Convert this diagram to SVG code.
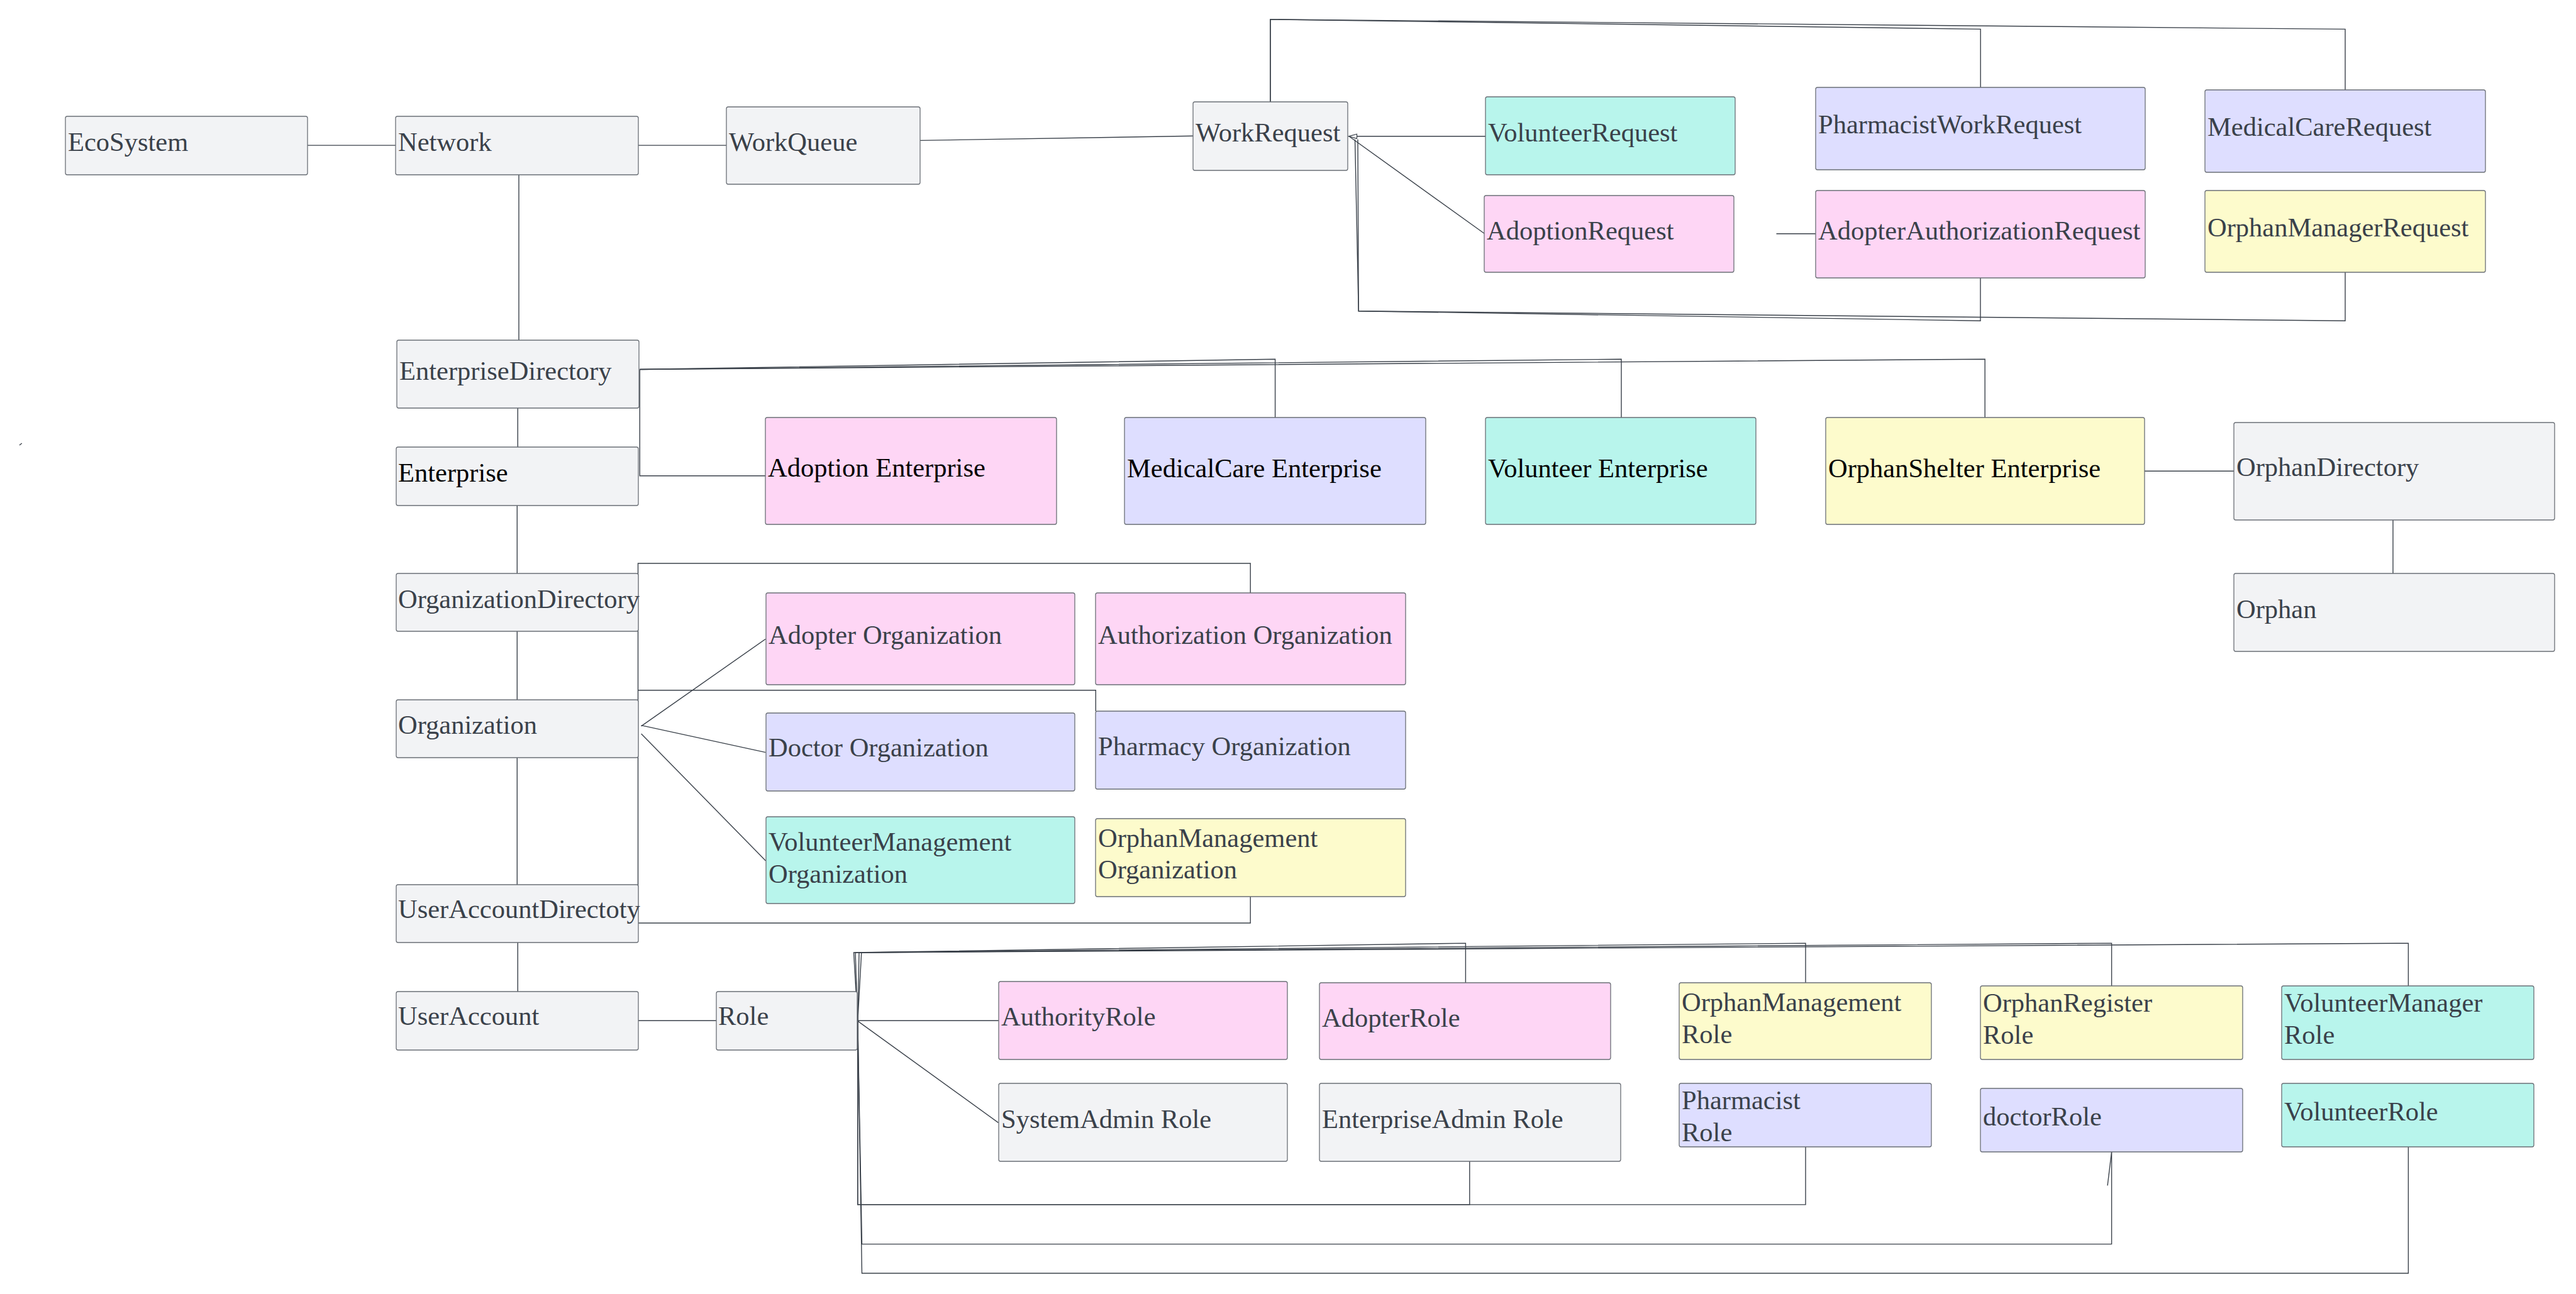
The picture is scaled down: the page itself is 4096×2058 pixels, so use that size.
<svg xmlns="http://www.w3.org/2000/svg" width="4096" height="2058" viewBox="0 0 4096 2058">
<style>
.n{stroke:#6a6f76;stroke-width:1.3}
.grey{fill:#f2f3f5}
.pink{fill:#fed6f5}
.lav{fill:#dedeff}
.teal{fill:#b8f5ec}
.yel{fill:#fdfbcc}
text{font-family:"Liberation Serif","Times New Roman",serif;font-size:42.5px;fill:#3a414a}
text.b{fill:#000}
.c{fill:none;stroke:#3a414a;stroke-width:1.4}
</style>
<defs>
<marker id="tri" markerUnits="userSpaceOnUse" markerWidth="16" markerHeight="10" viewBox="-1 -5 16 10" refX="13" refY="0" orient="auto">
<path d="M0,-3.6 L13,0 L0,3.6 Z" fill="#fff" stroke="#3a414a" stroke-width="1.2"/>
</marker>
</defs>
<rect width="4096" height="2058" fill="#fff"/>
<g id="connectors">
<path class="c" d="M489,231.1 H629"/>
<path class="c" d="M1015,231.1 H1155"/>
<path class="c" d="M1463,223.4 L1897,216.3"/>
<path class="c" d="M825,278 V541"/>
<path class="c" d="M823.3,649 V711"/>
<path class="c" d="M822.3,804 V912"/>
<path class="c" d="M822.3,1004 V1113"/>
<path class="c" d="M822.3,1205 V1407"/>
<path class="c" d="M823.3,1499 V1577"/>
<path class="c" d="M1015,1623.2 H1139"/>
<path class="c" d="M2362,216.8 H2144.5" marker-end="url(#tri)"/>
<path class="c" d="M2360.7,371.8 L2146,217.5"/>
<path class="c" d="M2019.9,162 V30.9 L3149.2,46.4 V139"/>
<path class="c" d="M2019.9,162 V30.9 L3729,46.4 V143"/>
<path class="c" d="M2154.5,221.8 L2160.2,494.7 L3149,510.2 V442"/>
<path class="c" d="M2159,221.8 L2160.2,494.7 L3729,510.2 V433"/>
<path class="c" d="M2824.5,371.8 H2887"/>
<path class="c" d="M1017.3,587.5 L2027.6,571.2 V664"/>
<path class="c" d="M1017.3,587.5 L2578,571.2 V664"/>
<path class="c" d="M1017.3,587.5 L3156.2,571.2 V664"/>
<path class="c" d="M1017.3,587.5 V756.8 H1217"/>
<path class="c" d="M1988.2,943 V896 H1014.5 V1468 H1988.2 V1426"/>
<path class="c" d="M1014.5,1097.7 H1742.3 V1131"/>
<path class="c" d="M1019.6,1154.9 L1217.5,1016.2"/>
<path class="c" d="M1019.6,1153.6 L1217.5,1196.6"/>
<path class="c" d="M1019.6,1167 L1217.5,1369"/>
<path class="c" d="M1363,1623.2 H1588"/>
<path class="c" d="M1363.8,1623.9 L1587.5,1785.6"/>
<path class="c" d="M1363.8,1623.9 L1357.5,1515 L2330.4,1500.1 V1563"/>
<path class="c" d="M1363.8,1623.9 L1360,1515 L2871,1500.1 V1563"/>
<path class="c" d="M1363.8,1623.9 L1366,1515 L3357.6,1500.1 V1568"/>
<path class="c" d="M1363.8,1623.9 L1369.8,1515 L3829.4,1500.1 V1568"/>
<path class="c" d="M1363.8,1623.9 V1915.9 H2336.8 V1847"/>
<path class="c" d="M1363.8,1623.9 V1915.9 H2871 V1824"/>
<path class="c" d="M1363.8,1623.9 L1370.5,1978.6 H3357.6 V1832"/>
<path class="c" d="M3357.6,1832 L3351.1,1885.5"/>
<path class="c" d="M1363.8,1623.9 L1370.5,2025 H3829.4 V1824"/>
<path class="c" d="M3410,749.2 H3552"/>
<path class="c" d="M3805,827 V912"/>
<path class="c" d="M30.9,708 L34.8,705"/>
</g>
<g id="ecosystem"><rect class="n grey" x="104" y="185" width="385" height="93" rx="3"/><text x="108" y="239.5">EcoSystem</text></g>
<g id="network"><rect class="n grey" x="629" y="185" width="386" height="93" rx="3"/><text x="633" y="239.5">Network</text></g>
<g id="workqueue"><rect class="n grey" x="1155" y="170" width="308" height="123" rx="3"/><text x="1159" y="239.5">WorkQueue</text></g>
<g id="workrequest"><rect class="n grey" x="1897" y="162" width="246" height="109" rx="3"/><text x="1901" y="225">WorkRequest</text></g>
<g id="volunteerrequest"><rect class="n teal" x="2362" y="154" width="397" height="124" rx="3"/><text x="2366" y="224.5">VolunteerRequest</text></g>
<g id="adoptionrequest"><rect class="n pink" x="2360" y="311" width="397" height="122" rx="3"/><text x="2364" y="380.5">AdoptionRequest</text></g>
<g id="pharmacistworkrequest"><rect class="n lav" x="2887" y="139" width="524" height="131" rx="3"/><text x="2891" y="212">PharmacistWorkRequest</text></g>
<g id="adopterauthorizationrequest"><rect class="n pink" x="2887" y="303" width="524" height="139" rx="3"/><text x="2891" y="381">AdopterAuthorizationRequest</text></g>
<g id="medicalcarerequest"><rect class="n lav" x="3506" y="143" width="446" height="131" rx="3"/><text x="3510" y="216">MedicalCareRequest</text></g>
<g id="orphanmanagerrequest"><rect class="n yel" x="3506" y="303" width="446" height="130" rx="3"/><text x="3510" y="375.5">OrphanManagerRequest</text></g>
<g id="enterprisedirectory"><rect class="n grey" x="631" y="541" width="385" height="108" rx="3"/><text x="635" y="603.5">EnterpriseDirectory</text></g>
<g id="enterprise"><rect class="n grey" x="630" y="711" width="385" height="93" rx="3"/><text class="b" x="633" y="765.5">Enterprise</text></g>
<g id="adoptionenterprise"><rect class="n pink" x="1217" y="664" width="463" height="170" rx="3"/><text class="b" x="1221" y="758">Adoption Enterprise</text></g>
<g id="medicalcareenterprise"><rect class="n lav" x="1788" y="664" width="479" height="170" rx="3"/><text class="b" x="1792" y="758.5">MedicalCare Enterprise</text></g>
<g id="volunteerenterprise"><rect class="n teal" x="2362" y="664" width="430" height="170" rx="3"/><text class="b" x="2366" y="758.5">Volunteer Enterprise</text></g>
<g id="orphanshelterenterprise"><rect class="n yel" x="2903" y="664" width="507" height="170" rx="3"/><text class="b" x="2907" y="758.5">OrphanShelter Enterprise</text></g>
<g id="orphandirectory"><rect class="n grey" x="3552" y="672" width="510" height="155" rx="3"/><text x="3556" y="756.8">OrphanDirectory</text></g>
<g id="orphan"><rect class="n grey" x="3552" y="912" width="510" height="124" rx="3"/><text x="3556" y="982.8">Orphan</text></g>
<g id="organizationdirectory"><rect class="n grey" x="630" y="912" width="385" height="92" rx="3"/><text x="633" y="966.8">OrganizationDirectory</text></g>
<g id="organization"><rect class="n grey" x="630" y="1113" width="385" height="92" rx="3"/><text x="633" y="1167">Organization</text></g>
<g id="useraccountdirectoty"><rect class="n grey" x="630" y="1407" width="385" height="92" rx="3"/><text x="633" y="1460">UserAccountDirectoty</text></g>
<g id="adopterorganization"><rect class="n pink" x="1218" y="943" width="491" height="146" rx="3"/><text x="1222" y="1023.5">Adopter Organization</text></g>
<g id="authorizationorganization"><rect class="n pink" x="1742" y="943" width="493" height="146" rx="3"/><text x="1746" y="1023.5">Authorization Organization</text></g>
<g id="doctororganization"><rect class="n lav" x="1218" y="1134" width="491" height="124" rx="3"/><text x="1222" y="1203.3">Doctor Organization</text></g>
<g id="pharmacyorganization"><rect class="n lav" x="1742" y="1131" width="493" height="124" rx="3"/><text x="1746" y="1200.5">Pharmacy Organization</text></g>
<g id="volunteermanagementorganization"><rect class="n teal" x="1218" y="1299" width="491" height="138" rx="3"/><text x="1222" y="1352.7">VolunteerManagement</text><text x="1222" y="1403.5">Organization</text></g>
<g id="orphanmanagementorganization"><rect class="n yel" x="1742" y="1302" width="493" height="124" rx="3"/><text x="1746" y="1347">OrphanManagement</text><text x="1746" y="1396.5">Organization</text></g>
<g id="useraccount"><rect class="n grey" x="630" y="1577" width="385" height="93" rx="3"/><text x="633" y="1630.3">UserAccount</text></g>
<g id="role"><rect class="n grey" x="1139" y="1577" width="224" height="93" rx="3"/><text x="1142" y="1630.3">Role</text></g>
<g id="authorityrole"><rect class="n pink" x="1588" y="1561" width="459" height="124" rx="3"/><text x="1592" y="1631.3">AuthorityRole</text></g>
<g id="adopterrole"><rect class="n pink" x="2098" y="1563" width="463" height="122" rx="3"/><text x="2102" y="1633">AdopterRole</text></g>
<g id="orphanmanagementrole"><rect class="n yel" x="2670" y="1563" width="401" height="122" rx="3"/><text x="2674" y="1608.4">OrphanManagement</text><text x="2674" y="1659">Role</text></g>
<g id="orphanregisterrole"><rect class="n yel" x="3149" y="1568" width="417" height="117" rx="3"/><text x="3153" y="1609">OrphanRegister</text><text x="3153" y="1659.6">Role</text></g>
<g id="volunteermanagerrole"><rect class="n teal" x="3628" y="1568" width="401" height="117" rx="3"/><text x="3632" y="1609">VolunteerManager</text><text x="3632" y="1659.6">Role</text></g>
<g id="systemadminrole"><rect class="n grey" x="1588" y="1723" width="459" height="124" rx="3"/><text x="1592" y="1793.8">SystemAdmin Role</text></g>
<g id="enterpriseadminrole"><rect class="n grey" x="2098" y="1723" width="479" height="124" rx="3"/><text x="2102" y="1793.8">EnterpriseAdmin Role</text></g>
<g id="pharmacistrole"><rect class="n lav" x="2670" y="1723" width="401" height="101" rx="3"/><text x="2674" y="1763.5">Pharmacist</text><text x="2674" y="1815">Role</text></g>
<g id="doctorrole"><rect class="n lav" x="3149" y="1731" width="417" height="101" rx="3"/><text x="3153" y="1789.5">doctorRole</text></g>
<g id="volunteerrole"><rect class="n teal" x="3628" y="1723" width="401" height="101" rx="3"/><text x="3632" y="1782">VolunteerRole</text></g>
</svg>
